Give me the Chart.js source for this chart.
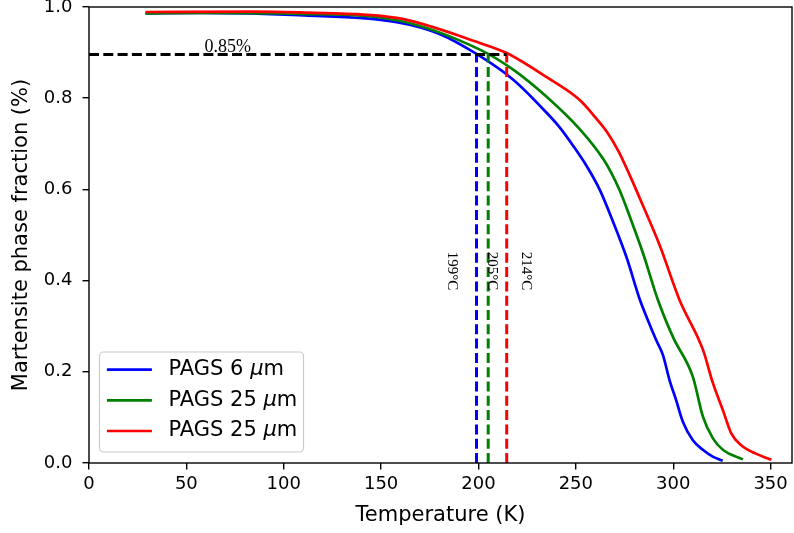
<!DOCTYPE html>
<html><head><meta charset="utf-8">
<script src="https://cdn.jsdelivr.net/npm/chart.js@4.4.0/dist/chart.umd.min.js"></script>
<style>html,body{margin:0;padding:0;background:#fff}</style>
</head><body>
<canvas id="c" width="794" height="533"></canvas>
<script>
// ---- data ----
const seriesLabels = ['PAGS 6 μm', 'PAGS 25 μm', 'PAGS 25 μm'];
const seriesColors = ['#0000ff', '#008000', '#ff0000'];

const blueX = [29, 57, 108, 158, 180, 199, 218, 235, 241.7, 248.4, 255.3, 262.3, 269.2, 276.2, 282.8, 287, 291.3, 294.7, 298.1, 301.5, 305, 310.1, 315.2, 320.3, 325.4];
const blueY = [0.986, 0.987, 0.982, 0.967, 0.941, 0.897, 0.840, 0.768, 0.736, 0.697, 0.653, 0.599, 0.528, 0.449, 0.359, 0.313, 0.269, 0.237, 0.182, 0.138, 0.090, 0.050, 0.029, 0.014, 0.005];

const greenX = [29, 60, 108, 158, 201, 218, 235, 252, 264, 268, 272.5, 278, 284.5, 292.2, 299.9, 310.1, 315.3, 320.4, 325.5, 335.8];
const greenY = [0.986, 0.987, 0.985, 0.971, 0.906, 0.862, 0.803, 0.732, 0.667, 0.638, 0.598, 0.537, 0.460, 0.357, 0.276, 0.189, 0.101, 0.054, 0.029, 0.008];

const redX = [29, 83, 108, 158, 200.7, 214.5, 235, 252, 260, 266, 272, 278, 284, 293, 303.3, 315.3, 320.4, 325.5, 329.8, 334.9, 342.7, 350.4];
const redY = [0.989, 0.990, 0.988, 0.976, 0.921, 0.899, 0.846, 0.796, 0.758, 0.726, 0.683, 0.628, 0.569, 0.478, 0.357, 0.248, 0.175, 0.116, 0.065, 0.039, 0.020, 0.007];

const thresholdFrac = 0.896;
const thresholdTemps = [199, 205, 214.5];
const thresholdColors = ['#0000ff', '#008000', '#ff0000'];
const thresholdTexts = ['199°C', '205°C', '214°C'];
const thresholdTextX = [186.5, 207, 224.3];
const thresholdTextY = 0.421;
const fracText = '0.85%';
const fracTextX = 71.3;
const fracTextY = 0.902;

const xTicks = [0, 50, 100, 150, 200, 250, 300, 350];
const yTicks = [0.0, 0.2, 0.4, 0.6, 0.8, 1.0];
const xTitle = 'Temperature (K)';
const yTitle = 'Martensite phase fraction (%)';

// ---- build datasets ----
const SANS = 'DejaVu Sans';
const SERIF = 'Liberation Serif';
const zip = (xs, ys) => xs.map((x, i) => ({x, y: ys[i]}));
const curves = [zip(blueX, blueY), zip(greenX, greenY), zip(redX, redY)];

const datasets = [];
datasets.push({
  label: 'h', data: [{x: 0, y: thresholdFrac}, {x: thresholdTemps[2], y: thresholdFrac}],
  borderColor: '#000', borderWidth: 3, borderDash: [10, 4.3], pointRadius: 0, order: 0
});
thresholdTemps.forEach((t, i) => datasets.push({
  label: 'v' + i, data: [{x: t, y: 0}, {x: t, y: thresholdFrac}],
  borderColor: thresholdColors[i], borderWidth: 3, borderDash: [10, 4.3], pointRadius: 0, order: 1 + (2 - i)
}));
curves.forEach((d, i) => datasets.push({
  label: seriesLabels[i], data: d, borderColor: seriesColors[i], borderWidth: 2.7,
  pointRadius: 0, cubicInterpolationMode: 'monotone', order: 10 - i
}));

const frameLegendPlugin = {
  id: 'frameLegend',
  afterDatasetsDraw(chart) {
    const {ctx, chartArea: a, scales: {x, y}} = chart;
    ctx.save();
    // annotations
    ctx.fillStyle = '#000';
    ctx.font = `18px "${SERIF}"`;
    ctx.textAlign = 'center';
    ctx.textBaseline = 'alphabetic';
    ctx.fillText(fracText, x.getPixelForValue(fracTextX), y.getPixelForValue(fracTextY));
    ctx.font = `15px "${SERIF}"`;
    ctx.textBaseline = 'middle';
    thresholdTexts.forEach((t, i) => {
      ctx.save();
      ctx.translate(x.getPixelForValue(thresholdTextX[i]), y.getPixelForValue(thresholdTextY));
      ctx.rotate(Math.PI / 2);
      ctx.fillText(t, 0, 0);
      ctx.restore();
    });
    // frame
    ctx.strokeStyle = '#000';
    ctx.lineWidth = 1.4;
    ctx.strokeRect(a.left, a.top, a.right - a.left, a.bottom - a.top);
    // legend
    const lx = a.left + 10.5, ly = a.top + 345, lw = 204, lh = 100, r = 4;
    ctx.beginPath();
    ctx.moveTo(lx + r, ly);
    ctx.arcTo(lx + lw, ly, lx + lw, ly + lh, r);
    ctx.arcTo(lx + lw, ly + lh, lx, ly + lh, r);
    ctx.arcTo(lx, ly + lh, lx, ly, r);
    ctx.arcTo(lx, ly, lx + lw, ly, r);
    ctx.closePath();
    ctx.fillStyle = 'rgba(255,255,255,0.8)';
    ctx.fill();
    ctx.strokeStyle = '#cccccc';
    ctx.lineWidth = 1.2;
    ctx.stroke();
    ctx.textAlign = 'left';
    ctx.textBaseline = 'middle';
    seriesLabels.forEach((lab, i) => {
      const cy = ly + 17.6 + i * 30.7;
      ctx.strokeStyle = seriesColors[i];
      ctx.lineWidth = 2.7;
      ctx.beginPath();
      ctx.moveTo(lx + 7.4, cy);
      ctx.lineTo(lx + 52.4, cy);
      ctx.stroke();
      ctx.fillStyle = '#000';
      const parts = lab.split('μ');
      let tx = lx + 69;
      ctx.font = `21px "${SANS}"`;
      ctx.fillText(parts[0], tx, cy);
      tx += ctx.measureText(parts[0]).width;
      ctx.font = `italic 21px "${SANS}"`;
      ctx.fillText('μ', tx, cy);
      tx += ctx.measureText('μ').width;
      ctx.font = `21px "${SANS}"`;
      ctx.fillText(parts[1], tx, cy);
    });
    ctx.restore();
  }
};

const tickGrid = {display: true, drawOnChartArea: false, drawTicks: true, tickLength: 6.5, color: '#000', lineWidth: 1.4};

new Chart(document.getElementById('c'), {
  type: 'line',
  data: {datasets},
  options: {
    responsive: false, animation: false, devicePixelRatio: 1,
    layout: {padding: {top: 7, right: 2, left: 0, bottom: 0}},
    plugins: {legend: {display: false}, tooltip: {enabled: false}},
    scales: {
      x: {
        type: 'linear', min: 0, max: 361,
        afterBuildTicks: s => { s.ticks = xTicks.map(v => ({value: v})); },
        ticks: {font: {family: SANS, size: 18}, color: '#000', padding: 4, maxRotation: 0, autoSkip: false, callback: v => String(v)},
        grid: tickGrid, border: {display: false},
        title: {display: true, text: xTitle, color: '#000', font: {family: SANS, size: 21}, padding: {top: 5, bottom: 5}},
        afterFit: s => { s.height = 70; s.paddingLeft = 0; s.paddingRight = 0; }
      },
      y: {
        type: 'linear', min: 0, max: 1,
        afterBuildTicks: s => { s.ticks = yTicks.map(v => ({value: v})); },
        ticks: {font: {family: SANS, size: 18}, color: '#000', padding: 10, callback: v => v.toFixed(1)},
        grid: tickGrid, border: {display: false},
        title: {display: true, text: yTitle, color: '#000', font: {family: SANS, size: 21}, padding: {top: 9, bottom: 9}},
        afterFit: s => { s.width = 89; s.paddingTop = 0; s.paddingBottom = 0; }
      }
    }
  },
  plugins: [frameLegendPlugin]
});
</script>
</body></html>
